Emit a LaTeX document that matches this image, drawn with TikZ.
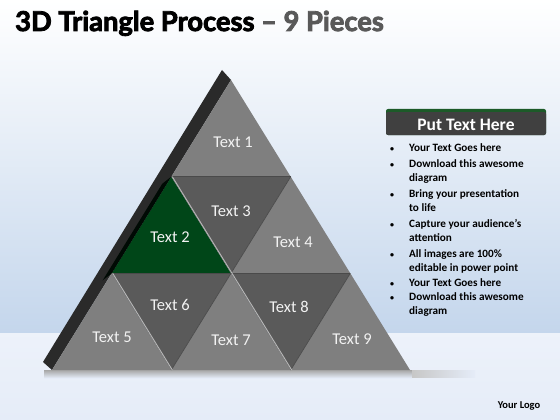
\documentclass[tikz,border=0pt]{standalone}
\usepackage{fontspec}
\setmainfont{Carlito}
\newfontfamily\titlefont{Lato}[BoldFeatures={FakeBold=3}]
\begin{document}
\begin{tikzpicture}[x=1pt,y=-1pt,
  light/.style={fill=triLight},
  darkt/.style={fill=triDark},
  greent/.style={fill=triGreen},
  lbl/.style={text=labelWhite,font=\fontsize{16.5}{18}\selectfont,inner sep=0pt},
  bul/.style={anchor=north west,align=left,inner sep=0pt,font=\bfseries\fontsize{11.2}{14}\selectfont},
  dot/.style={anchor=north west,inner sep=0pt,font=\bfseries\fontsize{11.2}{14}\selectfont},
  bev/.style={draw=bevelLight,line width=0.9pt},
  bevd/.style={draw=bevelDark,line width=0.7pt}]
\definecolor{triLight}{HTML}{7F7F7F}
\definecolor{triDark}{HTML}{5A5A5A}
\definecolor{triGreen}{HTML}{004618}
\definecolor{sideDark}{HTML}{2A2A2A}
\definecolor{labelWhite}{HTML}{F2F2F2}
\definecolor{bevelLight}{HTML}{B8B8B8}
\definecolor{bevelDark}{HTML}{4A4A4A}
\definecolor{bgBlue}{HTML}{C4D6EC}
\definecolor{bgLow}{HTML}{E5ECF8}
\definecolor{boxGray}{HTML}{404040}
\definecolor{boxGreen}{HTML}{1C5A28}
\definecolor{subGray}{HTML}{595959}
\useasboundingbox (0,0) rectangle (560,420);
% background
\shade[top color=white,bottom color=bgBlue] (0,0) rectangle (560,333);
\shade[top color=bgLow!70!white,bottom color=bgLow] (0,333) rectangle (560,420);
% base shadow
\shade[top color=black!35,bottom color=bgLow] (44,370) rectangle (412,378);
\shade[left color=black!22,right color=bgLow] (412,370) rectangle (475,377);
% title
\node[anchor=base west,inner sep=0pt,font=\titlefont\bfseries\fontsize{27.3}{30}\selectfont] (title) at (15,31) {3D Triangle Process \textcolor{subGray}{– 9 Pieces}};
% side face
\fill[sideDark] (222,70) -- (231,80) -- (52,370) -- (43,362) -- cycle;
% coordinates
\coordinate (A) at (231,80);
\coordinate (r1l) at (171.3,176.7); \coordinate (r1r) at (290.7,176.7);
\coordinate (r2l) at (111.7,273.3); \coordinate (r2m) at (231,273.3); \coordinate (r2r) at (350.3,273.3);
\coordinate (b0) at (52,370); \coordinate (b1) at (171.3,370); \coordinate (b2) at (290.7,370); \coordinate (b3) at (410,370);
% pieces
\fill[light] (A) -- (r1l) -- (r1r) -- cycle;
\fill[greent] (r1l) -- (r2l) -- (r2m) -- cycle;
\fill[darkt] (r1l) -- (r1r) -- (r2m) -- cycle;
\fill[light] (r1r) -- (r2m) -- (r2r) -- cycle;
\fill[light] (r2l) -- (b0) -- (b1) -- cycle;
\fill[darkt] (r2l) -- (r2m) -- (b1) -- cycle;
\fill[light] (r2m) -- (b1) -- (b2) -- cycle;
\fill[darkt] (r2m) -- (r2r) -- (b2) -- cycle;
\fill[light] (r2r) -- (b2) -- (b3) -- cycle;
% green piece darker side strip
\fill[black!85!triGreen] (r1l) -- (r2l) -- ([xshift=-9pt,yshift=-7pt]r2l) -- ([xshift=-9pt,yshift=-7pt]r1l) -- cycle;
% bevels
\draw[bevd] (r1l) -- (r1r);
\draw[bevd] (r2l) -- (r2r);
\draw[bevd] (r1r) -- (r2m);
\draw[bevd] (r2m) -- (b1);
\draw[bevd] (r2r) -- (b2);
\draw[bev] ([xshift=1pt]r1l) -- ([xshift=1pt]r2m);
\draw[bev] ([xshift=1pt]r2l) -- ([xshift=1pt]b1);
\draw[bev] ([xshift=1pt]r2m) -- ([xshift=1pt]b2);
% labels
\node[lbl] (t1) at (233,142) {Text 1};
\node[lbl] (t2) at (170,237) {Text 2};
\node[lbl] (t3) at (231,211) {Text 3};
\node[lbl] (t4) at (293,242) {Text 4};
\node[lbl] (t5) at (112,337) {Text 5};
\node[lbl] (t6) at (170,305) {Text 6};
\node[lbl] (t7) at (231,340) {Text 7};
\node[lbl] (t8) at (289,307) {Text 8};
\node[lbl] (t9) at (352,339) {Text 9};
% header box
\fill[boxGreen,rounded corners=2pt] (386,109) rectangle (546,135);
\fill[boxGray,rounded corners=2pt] (386,112) rectangle (546,135);
\node[text=white,inner sep=0pt,font=\bfseries\fontsize{17.5}{19}\selectfont] (hdr) at (466,124.5) {Put Text Here};
% bullets (y = first baseline - 9.8)
\foreach \yy/\txt [count=\i] in {141.7/Your Text Goes here,
  157.2/{Download this awesome\\diagram},
  187.2/{Bring your presentation\\to life},
  217.2/{Capture your audience’s\\attention},
  247.2/{All images are 100\%\\editable in power point},
  276.2/Your Text Goes here,
  290.2/{Download this awesome\\diagram}}{
  \node[dot] (d\i) at (390,\yy) {\strut{\fontsize{8}{14}\selectfont •}};
  \node[bul] (b\i) at (409,\yy) {\strut\txt};
}
% logo
\node[inner sep=0pt,font=\bfseries\fontsize{10.5}{12}\selectfont] (logo) at (519,406) {Your Logo};
\end{tikzpicture}
\end{document}
